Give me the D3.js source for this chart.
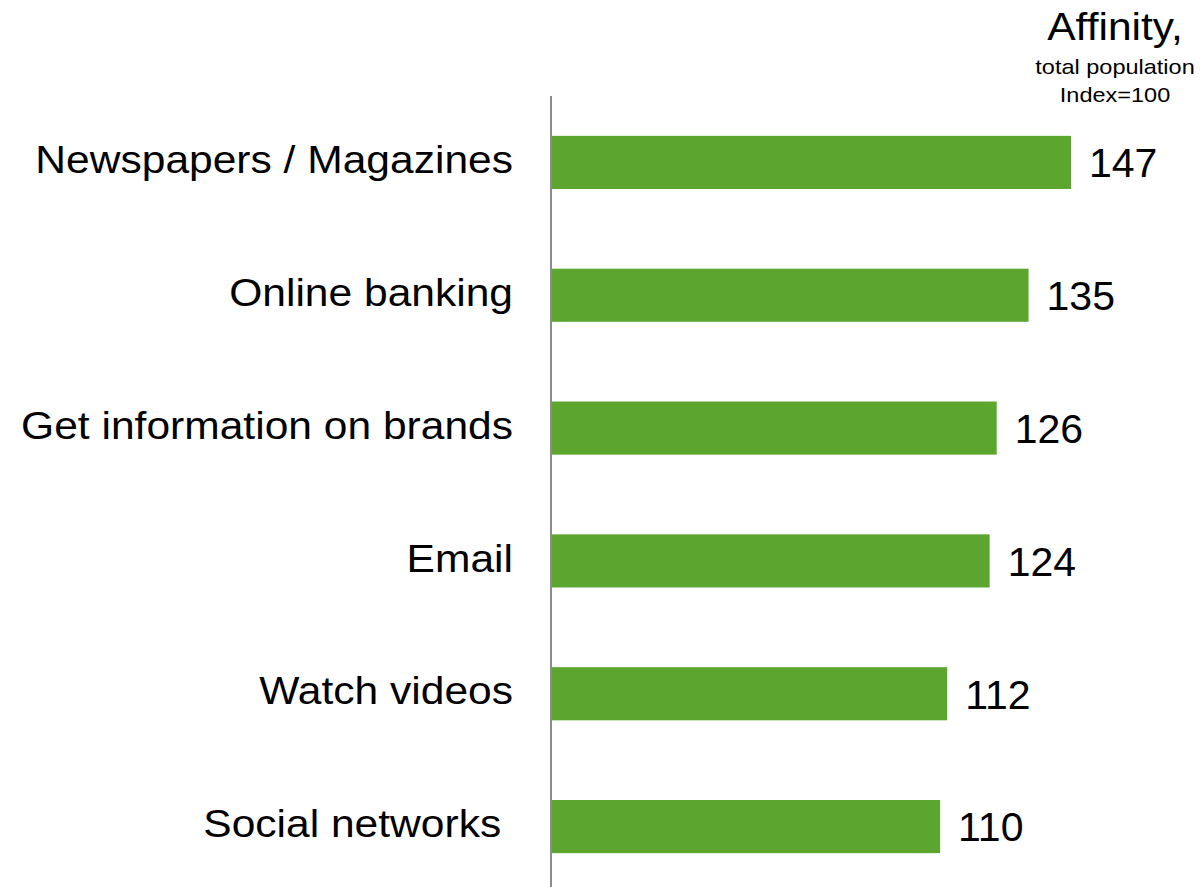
<!DOCTYPE html>
<html>
<head>
<meta charset="utf-8">
<script src="https://cdn.jsdelivr.net/npm/d3@7"></script>
<style>
  html, body { margin: 0; padding: 0; background: #fff; }
  svg { display: block; font-family: "Liberation Sans", Arial, sans-serif; }
</style>
</head>
<body>
<svg id="chart" width="1200" height="887"></svg>
<script>
// Affinity index by online activity (total population = 100)
const categories = ["Newspapers / Magazines", "Online banking", "Get information on brands", "Email", "Watch videos", "Social networks "];
const values = [147, 135, 126, 124, 112, 110];

const svg = d3.select("#chart");
const x0 = 551;
const stretch = 1.12; // slightly widened lettering

const x = d3.scaleLinear().domain([0, 147]).range([x0, 1071]);
const y = d3.scaleBand().domain(categories).range([96, 893]).paddingInner(0.6).paddingOuter(0.3);

// bars
svg.append("g").selectAll("rect")
  .data(categories)
  .join("rect")
  .attr("x", x(0))
  .attr("y", d => y(d))
  .attr("width", (d, i) => x(values[i]) - x(0))
  .attr("height", y.bandwidth())
  .attr("fill", "#5ca62f");

// vertical axis line
svg.append("line")
  .attr("x1", x0).attr("x2", x0)
  .attr("y1", 96).attr("y2", 887)
  .attr("stroke", "#8c8c8c").attr("stroke-width", 2);

// category labels
svg.append("g").selectAll("g")
  .data(categories)
  .join("g")
  .attr("transform", d => `translate(513,${y(d) + y.bandwidth() / 2}) scale(${stretch},1)`)
  .append("text")
  .attr("dy", "0.28em")
  .attr("text-anchor", "end")
  .attr("font-size", 38)
  .attr("fill", "#000")
  .style("white-space", "pre")
  .text(d => d);

// value labels
svg.append("g").selectAll("text")
  .data(categories)
  .join("text")
  .attr("x", (d, i) => x(values[i]) + 18)
  .attr("y", d => y(d) + y.bandwidth() / 2)
  .attr("dy", "0.36em")
  .attr("font-size", 41)
  .attr("fill", "#000")
  .text((d, i) => values[i]);

// header
const header = [
  { text: "Affinity,", size: 38, y: 39.5 },
  { text: "total population", size: 21, y: 74 },
  { text: "Index=100", size: 21, y: 101.5 }
];
svg.append("g").selectAll("g")
  .data(header)
  .join("g")
  .attr("transform", d => `translate(1115,${d.y}) scale(${stretch},1)`)
  .append("text")
  .attr("text-anchor", "middle")
  .attr("font-size", d => d.size)
  .attr("fill", "#000")
  .text(d => d.text);
</script>
</body>
</html>
